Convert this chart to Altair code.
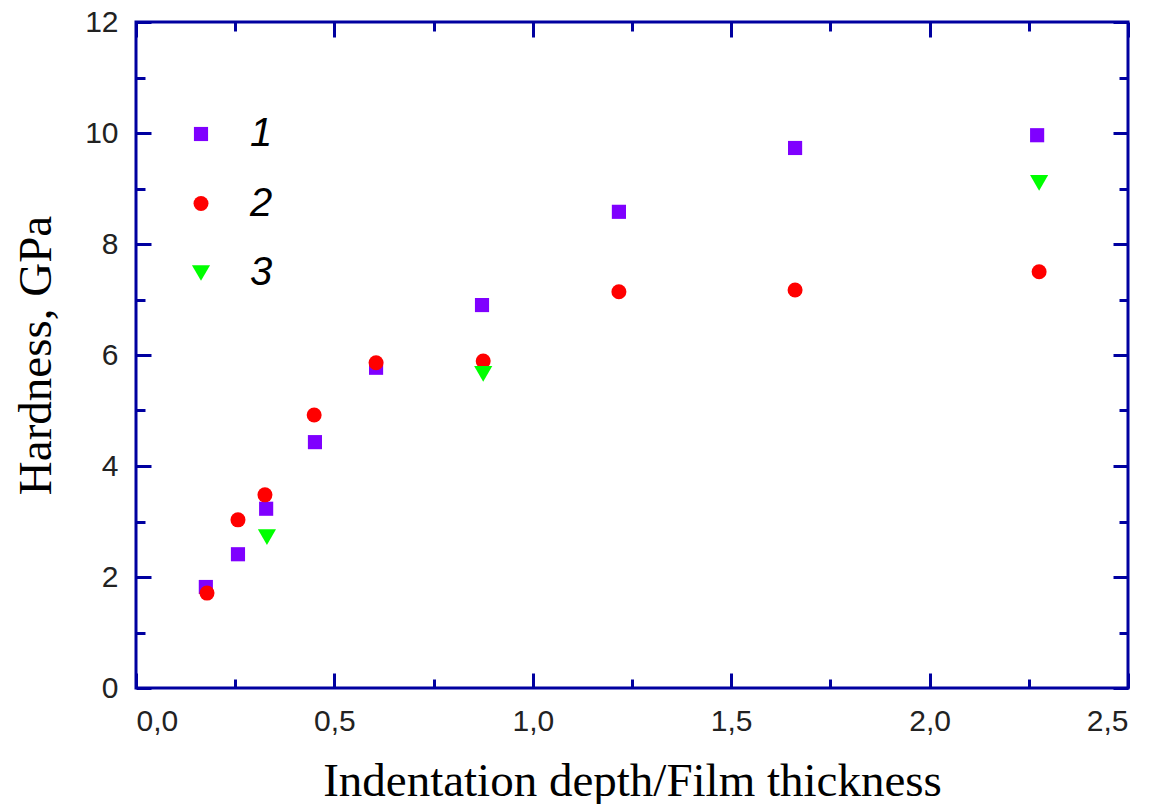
import altair as alt
import pandas as pd

# ---- data ----
x1 = [0.176, 0.257, 0.328, 0.451, 0.605, 0.872, 1.217, 1.661, 2.271]
y1 = [1.82, 2.41, 3.23, 4.43, 5.77, 6.90, 8.58, 9.73, 9.96]
x2 = [0.179, 0.257, 0.325, 0.449, 0.605, 0.875, 1.217, 1.661, 2.276]
y2 = [1.71, 3.03, 3.48, 4.92, 5.86, 5.89, 7.14, 7.17, 7.50]
x3 = [0.330, 0.875, 2.276]
y3 = [2.72, 5.66, 9.10]
series_names = ["1", "2", "3"]

x_major = [0.0, 0.5, 1.0, 1.5, 2.0, 2.5]
x_minor = [0.25, 0.75, 1.25, 1.75, 2.25]
y_major = [0, 2, 4, 6, 8, 10, 12]
y_minor = [1, 3, 5, 7, 9, 11]

rows = []
for xs, ys, name in [(x1, y1, "1"), (x2, y2, "2"), (x3, y3, "3")]:
    for a, b in zip(xs, ys):
        rows.append({"x": a, "y": b, "series": name})
df = pd.DataFrame(rows)

W, H = 992, 666
BLUE = "#0000a0"

xscale = alt.Scale(domain=[0, 2.5], nice=False, zero=False)
yscale = alt.Scale(domain=[0, 12], nice=False, zero=False)

base = alt.Chart(df)


def legend():
    return alt.Legend(orient="none", legendX=45, legendY=92, title=None,
                      labelFont="Liberation Sans", labelFontSize=40,
                      labelFontStyle="italic", labelColor="black",
                      rowPadding=29.5, labelOffset=29, padding=0,
                      symbolStrokeWidth=0)


points = base.mark_point(filled=True, opacity=1).encode(
    x=alt.X("x:Q", scale=xscale,
            axis=alt.Axis(orient="bottom", values=x_major, ticks=False, tickSize=0,
                          domain=False, grid=False, labelPadding=18,
                          labelExpr="replace(format(datum.value, '.1f'), '.', ',')",
                          title="Indentation depth/Film thickness", titlePadding=22)),
    y=alt.Y("y:Q", scale=yscale,
            axis=alt.Axis(orient="left", values=y_major, ticks=False, tickSize=0,
                          domain=False, grid=False, labelPadding=18, format="d",
                          title="Hardness, GPa", titlePadding=24)),
    color=alt.Color("series:N",
                    scale=alt.Scale(domain=series_names, range=["#7f00ff", "#ff0000", "#00ff00"]),
                    legend=legend()),
    shape=alt.Shape("series:N",
                    scale=alt.Scale(domain=series_names, range=["square", "circle", "triangle-down"]),
                    legend=legend()),
    size=alt.Size("series:N",
                  scale=alt.Scale(type="ordinal", domain=series_names, range=[200, 225, 330]),
                  legend=legend()),
)


def tick_layer(xo, yo, xvals, yvals, size):
    return base.mark_point(opacity=0).encode(
        x=alt.X("x:Q", scale=xscale,
                axis=alt.Axis(orient=xo, offset=-H, values=xvals, labels=False, domain=False,
                              grid=False, title=None, tickSize=size, tickWidth=3,
                              tickColor=BLUE)),
        y=alt.Y("y:Q", scale=yscale,
                axis=alt.Axis(orient=yo, offset=-W, values=yvals, labels=False, domain=False,
                              grid=False, title=None, tickSize=size, tickWidth=3,
                              tickColor=BLUE)),
    )


layers = [
    points,
    tick_layer("top", "right", x_major, y_major, 15),
    tick_layer("bottom", "left", x_major, y_major, 15),
    tick_layer("top", "right", x_minor, y_minor, 9),
    tick_layer("bottom", "left", x_minor, y_minor, 9),
]

chart = alt.layer(*layers).resolve_axis(x="independent", y="independent").properties(
    width=W, height=H,
    background="white",
    autosize=alt.AutoSizeParams(type="none"),
    padding={"left": 128, "top": 14, "right": 20, "bottom": 116},
).configure_view(
    stroke=BLUE, strokeWidth=3
).configure_axis(
    labelFont="Liberation Sans", labelFontSize=30, labelColor="#222222",
    titleFont="Liberation Serif", titleFontSize=47, titleFontWeight="normal", titleColor="black",
)

chart.save("out.html", embed_options={"renderer": "svg", "actions": False})
